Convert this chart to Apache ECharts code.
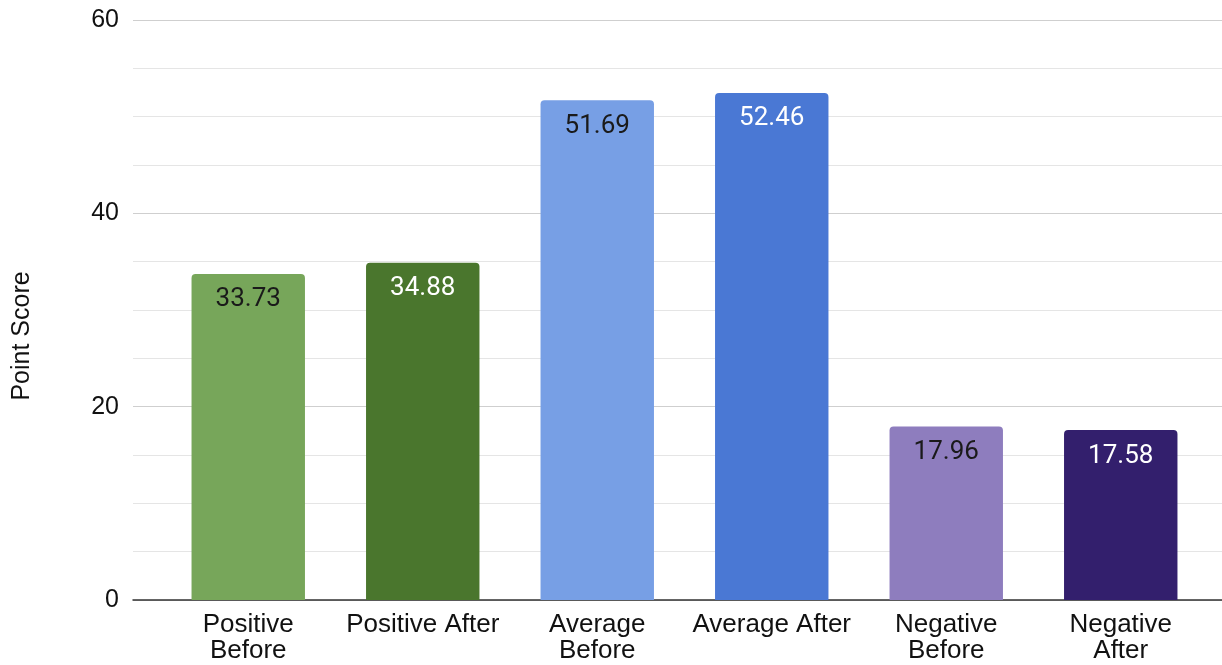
<!DOCTYPE html>
<html>
<head>
<meta charset="utf-8">
<script src="https://cdn.jsdelivr.net/npm/echarts@6/dist/echarts.min.js"></script>
<style>
  html, body { margin: 0; padding: 0; background: #ffffff; }
  #chart { width: 1222px; height: 665px; }
</style>
</head>
<body>
<div id="chart"></div>
<script>
// Category labels (two-line where the text wraps under the bar)
const categories = ['Positive\nBefore', 'Positive After', 'Average\nBefore', 'Average After', 'Negative\nBefore', 'Negative\nAfter'];
// Point scores per group
const scores = [33.73, 34.88, 51.69, 52.46, 17.96, 17.58];
// Bar fill and label colours per group
const barColors = ['#77a65a', '#4a762d', '#779fe5', '#4a78d4', '#8e7dbe', '#331f6d'];
const labelColors = ['#1a1a1a', '#ffffff', '#1a1a1a', '#ffffff', '#1a1a1a', '#ffffff'];
// Value axis range and ticks
const yMin = 0, yMax = 60, yStep = 20;
const yTitle = 'Point Score';

const chart = echarts.init(document.getElementById('chart'), null, { renderer: 'canvas' });

const axisFont = "'Liberation Sans', Arial, sans-serif";
const valueFont = "Roboto, 'Liberation Sans', sans-serif";

chart.setOption({
  animation: false,
  backgroundColor: '#ffffff',
  grid: [
    // gridline layer spanning the full plot width
    { left: 133, right: 0, top: 20, bottom: 65 },
    // bar layer, inset inside the gridline area
    { left: 161, right: 14, top: 20, bottom: 65 }
  ],
  xAxis: [
    {
      gridIndex: 0, type: 'category', data: categories,
      axisLine: { show: true, lineStyle: { color: '#333333', width: 1.5 } },
      axisTick: { show: false }, axisLabel: { show: false }, splitLine: { show: false }
    },
    {
      gridIndex: 1, type: 'category', data: categories,
      axisLine: { show: false }, axisTick: { show: false },
      axisLabel: {
        margin: 12, color: '#111111', fontFamily: axisFont, fontSize: 26, lineHeight: 26,
        interval: 0, align: 'center'
      }
    }
  ],
  yAxis: [
    {
      gridIndex: 0, type: 'value', min: yMin, max: yMax, interval: yStep,
      axisLine: { show: false }, axisTick: { show: false },
      axisLabel: { margin: 14, color: '#111111', fontFamily: axisFont, fontSize: 25 },
      splitLine: { show: true, lineStyle: { color: '#cfcfcf', width: 1.2 } },
      minorTick: { show: false, splitNumber: 4 },
      minorSplitLine: { show: true, lineStyle: { color: '#e5e5e5', width: 1.2 } }
    },
    {
      gridIndex: 1, type: 'value', min: yMin, max: yMax, interval: yStep,
      show: false, splitLine: { show: false }
    }
  ],
  graphic: [
    {
      type: 'text', x: 22, y: 336, rotation: Math.PI / 2,
      style: {
        text: yTitle, fill: '#111111', fontSize: 25, fontFamily: axisFont,
        align: 'center', verticalAlign: 'middle'
      }
    }
  ],
  series: [
    {
      type: 'bar', xAxisIndex: 1, yAxisIndex: 1,
      barWidth: '65%',
      data: scores.map((v, i) => ({
        value: v,
        itemStyle: { color: barColors[i], borderRadius: [4, 4, 0, 0] },
        label: { color: labelColors[i] }
      })),
      label: {
        show: true, position: 'insideTop', distance: 13,
        fontFamily: valueFont, fontSize: 26,
        formatter: p => p.value.toFixed(2)
      },
      z: 3
    }
  ]
});
</script>
</body>
</html>
